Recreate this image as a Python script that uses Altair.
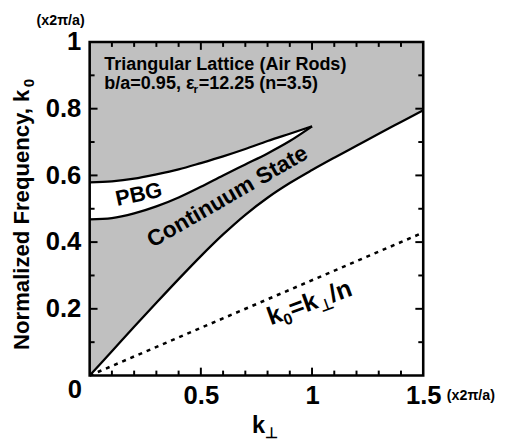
import altair as alt
import pandas as pd

# ---------------- data ----------------
# lower (light-line) band edge, k_perp vs k0
k_band = [0.0, 0.1, 0.2, 0.3, 0.4, 0.5, 0.6, 0.7, 0.8, 0.9, 1.0, 1.1, 1.2, 1.3, 1.4, 1.5]
f_band = [0.0, 0.073, 0.146, 0.218, 0.289, 0.358, 0.423, 0.482, 0.533, 0.577, 0.616, 0.653, 0.689, 0.725, 0.760, 0.795]

# photonic band gap edges
k_pbg = [0.0, 0.1, 0.2, 0.3, 0.4, 0.5, 0.6, 0.7, 0.8, 0.9, 1.0]
f_pbg_upper = [0.579, 0.582, 0.590, 0.603, 0.618, 0.637, 0.657, 0.679, 0.703, 0.725, 0.747]
f_pbg_lower = [0.468, 0.472, 0.486, 0.507, 0.534, 0.566, 0.600, 0.633, 0.666, 0.703, 0.747]

# light line k0 = k_perp / n  (n = 3.5)
k_light = [0.0, 1.5]
f_light = [0.0, 0.4286]

# axis tick positions / labels
x_label_values = [0.5, 1.0, 1.5]
y_label_values = [0.2, 0.4, 0.6, 0.8, 1.0]
x_major_ticks = [0.5, 1.0]
x_minor_ticks = [0.1, 0.2, 0.3, 0.4, 0.6, 0.7, 0.8, 0.9, 1.1, 1.2, 1.3, 1.4]
y_major_ticks = [0.2, 0.4, 0.6, 0.8]
y_minor_ticks = [0.1, 0.3, 0.5, 0.7, 0.9]

# ---------------- layout ----------------
W = 339
H = 339
FONT = "Liberation Sans"
GRAY = "#c0c0c0"

band_df = pd.DataFrame({"k": k_band, "f": f_band})
pbg_df = pd.DataFrame({"k": k_pbg, "hi": f_pbg_upper, "lo": f_pbg_lower})
light_df = pd.DataFrame({"k": k_light, "f": f_light})

x_scale = alt.Scale(domain=[0, 1.5], nice=False)
y_scale = alt.Scale(domain=[0, 1], nice=False)

label_style = dict(labelFont=FONT, labelFontSize=26, labelFontWeight="bold",
                   labelColor="black", ticks=False, tickSize=0, domain=False,
                   grid=False, title="", labelOverlap=False, labelFlush=False)
x_axis = alt.Axis(values=x_label_values, format=".1~f", labelPadding=7, **label_style)
y_axis = alt.Axis(values=y_label_values, format=".1~f", labelPadding=9, **label_style)

gray = alt.Chart(band_df).mark_area(color=GRAY, interpolate="monotone").encode(
    x=alt.X("k:Q", scale=x_scale, axis=x_axis),
    y=alt.Y("f:Q", scale=y_scale, axis=y_axis),
    y2=alt.datum(1),
)

pbg_fill = alt.Chart(pbg_df).mark_area(color="white", interpolate="monotone").encode(
    x="k:Q", y="lo:Q", y2="hi:Q")

line_style = dict(color="black", strokeWidth=2.3, interpolate="monotone")
band_line = alt.Chart(band_df).mark_line(**line_style).encode(x="k:Q", y="f:Q")
pbg_hi = alt.Chart(pbg_df).mark_line(**line_style).encode(x="k:Q", y="hi:Q")
pbg_lo = alt.Chart(pbg_df).mark_line(**line_style).encode(x="k:Q", y="lo:Q")
light = alt.Chart(light_df).mark_line(color="black", strokeWidth=2.6,
                                      strokeDash=[4, 5]).encode(x="k:Q", y="f:Q")


def xticks(vals, length):
    df = pd.DataFrame({"v": vals})
    bottom = alt.Chart(df).mark_rule(color="black", strokeWidth=2).encode(
        x="v:Q", y=alt.value(H), y2=alt.value(H - length))
    top = alt.Chart(df).mark_rule(color="black", strokeWidth=2).encode(
        x="v:Q", y=alt.value(0), y2=alt.value(length))
    return [bottom, top]


def yticks(vals, length):
    df = pd.DataFrame({"v": vals})
    left = alt.Chart(df).mark_rule(color="black", strokeWidth=2).encode(
        y="v:Q", x=alt.value(0), x2=alt.value(length))
    right = alt.Chart(df).mark_rule(color="black", strokeWidth=2).encode(
        y="v:Q", x=alt.value(W), x2=alt.value(W - length))
    return [left, right]


ticks = xticks(x_major_ticks, 8) + xticks(x_minor_ticks, 5) + \
    yticks(y_major_ticks, 8) + yticks(y_minor_ticks, 5)

frame = alt.Chart(pd.DataFrame({"a": [0]})).mark_rect(
    fill="transparent", stroke="black", strokeWidth=2.6).encode(
    x=alt.value(0), x2=alt.value(W), y=alt.value(0), y2=alt.value(H))


def txt(s, x, y, size, angle=0, dx=0, dy=0, align="left",
        baseline="alphabetic", px=False):
    enc_x = alt.value(x) if px else alt.datum(x)
    enc_y = alt.value(y) if px else alt.datum(y)
    mk = dict(font=FONT, fontWeight="bold", fontSize=size, color="black",
              align=align, baseline=baseline, dx=dx, dy=dy)
    if angle:
        mk["angle"] = angle
    return alt.Chart(pd.DataFrame({"t": [s]})).mark_text(**mk).encode(
        x=enc_x, y=enc_y, text="t:N")


texts = [
    # y axis title (rotated)
    txt("Normalized Frequency, k", -62, 313, 22.5, angle=270, px=True),
    txt("0", -62, 313, 15.5, angle=270, dx=267, dy=5, px=True),
    # x axis title
    txt("k", 165, 397, 24, px=True),
    txt("\u22a5", 165, 397, 15, dx=13.5, dy=5, px=True),
    # units
    txt("(x2\u03c0/a)", -54, -17, 14.5, px=True),
    txt("(x2\u03c0/a)", 363, 364, 14.5, px=True),
    # shared origin label
    txt("0", -15, 354, 26, align="center", baseline="middle", px=True),
    # header
    txt("Triangular Lattice (Air Rods)", 0.066, 0.917, 18.3),
    txt("b/a=0.95, \u03b5", 0.066, 0.858, 18.3),
    txt("r", 0.066, 0.858, 12, dx=90.5, dy=4),
    txt("=12.25 (n=3.5)", 0.066, 0.858, 18.3, dx=96),
    # region labels
    txt("PBG", 0.221, 0.543, 22, angle=348, align="center", baseline="middle"),
    txt("Continuum State", 0.620, 0.536, 23, angle=330, align="center", baseline="middle"),
    # light line label
    txt("k", 0.814, 0.151, 25.5, angle=340),
    txt("0", 0.814, 0.151, 16, angle=340, dx=14.2, dy=5.5),
    txt("=k", 0.814, 0.151, 25.5, angle=340, dx=23.5),
    txt("\u22a5", 0.814, 0.151, 16, angle=340, dx=53, dy=5.5),
    txt("/n", 0.814, 0.151, 25.5, angle=340, dx=67),
]

chart = alt.layer(
    gray, pbg_fill, light, band_line, pbg_hi, pbg_lo, *ticks, frame, *texts
).properties(
    width=W, height=H,
    padding={"left": 83, "top": 31, "right": 76, "bottom": 63},
    autosize=alt.AutoSizeParams(type="none"),
    background="white",
).configure_view(stroke="transparent")

chart.save("out.html", embed_options={"renderer": "svg", "actions": False})
